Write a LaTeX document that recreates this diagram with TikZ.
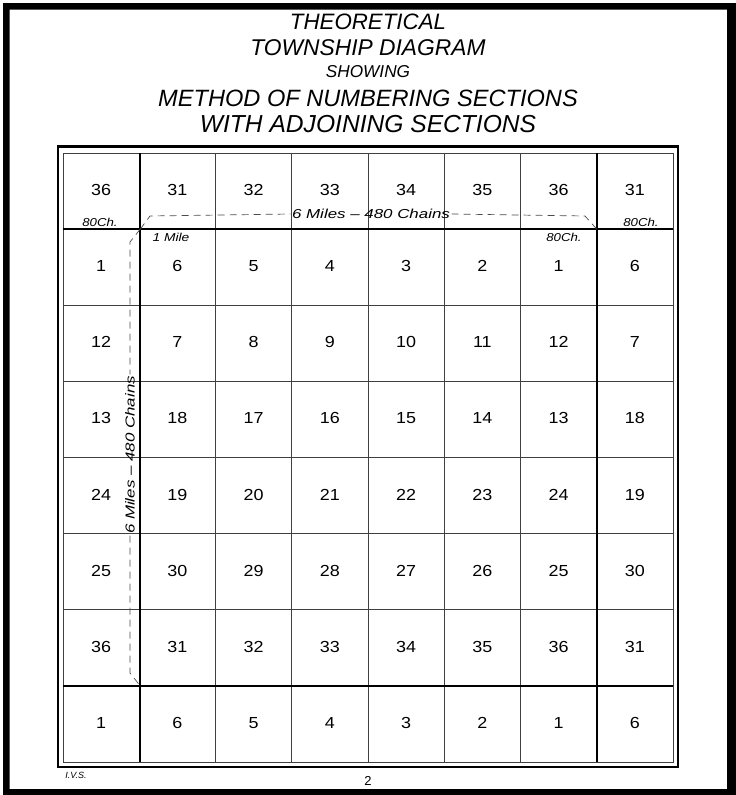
\documentclass[tikz,border=0pt]{standalone}
\usepackage{fontspec}
\usepackage{graphicx}
\setmainfont{Liberation Sans}
\begin{document}
\begin{tikzpicture}[x=1pt,y=-1pt,
  thingrid/.style={line width=0.8pt, black!75},
  thickgrid/.style={line width=2.3pt, black},
  num/.style={font=\fontsize{16}{16}\selectfont, inner sep=0pt},
  dimline/.style={dash pattern=on 7pt off 5pt, line width=0.7pt, black!70},
  smalllabel/.style={font=\fontsize{11.5}{11}\selectfont\itshape, inner sep=1.5pt},
  dimlabel/.style={font=\fontsize{13}{13}\selectfont\itshape, inner sep=1.5pt},
  titletext/.style={inner sep=0pt}]
\useasboundingbox (0,0) rectangle (736,795);
\fill[white] (0,0) rectangle (736,795);
\fill[black, even odd rule] (3,3) rectangle (736,795) (9.5,9.5) rectangle (727,789);

% title
\node[titletext, font=\fontsize{22.3}{22}\selectfont\itshape] (t1) at (368,22) {THEORETICAL};
\node[titletext, font=\fontsize{22.8}{22}\selectfont\itshape] (t2) at (368,48) {TOWNSHIP DIAGRAM};
\node[titletext, font=\fontsize{17.2}{17}\selectfont\itshape] (t3) at (368,72) {SHOWING};
\node[titletext, font=\fontsize{23.6}{23}\selectfont\itshape] (t4) at (368,98) {METHOD OF NUMBERING SECTIONS};
\node[titletext, font=\fontsize{24.6}{24}\selectfont\itshape] (t5) at (368,124) {WITH ADJOINING SECTIONS};

% grid
\foreach \i in {1,...,7} {
  \draw[thingrid] ({63+76.25*\i},153) -- ({63+76.25*\i},762);
  \draw[thingrid] (63,{153+76.125*\i}) -- (673,{153+76.125*\i});
}
\draw[thingrid] (63,153) rectangle (673,762);
\draw[thickgrid] (58,146.5) rectangle (678,767);
\draw[thickgrid] (140.25,153) -- (140.25,762);
\draw[thickgrid] (596.75,153) -- (596.75,762);
\draw[thickgrid] (63,229.1) -- (673,229.1);
\draw[thickgrid] (63,685.9) -- (673,685.9);

% numbers
\foreach \row [count=\r from 0] in {{36,31,32,33,34,35,36,31},{1,6,5,4,3,2,1,6},{12,7,8,9,10,11,12,7},{13,18,17,16,15,14,13,18},{24,19,20,21,22,23,24,19},{25,30,29,28,27,26,25,30},{36,31,32,33,34,35,36,31},{1,6,5,4,3,2,1,6}} {
  \foreach \n [count=\c from 0] in \row {
    \node[num] (n-\r-\c) at ({63+76.25*(\c+0.5)},{153+76.125*(\r+0.5)-1}) {\scalebox{1.12}[1]{\n}};
  }
}

% dimension lines
\coordinate (NW) at (140.25,229.1);
\coordinate (NE) at (596.75,229.1);
\coordinate (SW) at (140.25,685.9);
\coordinate (hb1) at (150,216);
\coordinate (hb2) at (585,216);
\coordinate (vb1) at (130,242);
\coordinate (vb2) at (130,673);
\node[dimlabel] (hlabel) at (371,214) {\scalebox{1.3}[1]{6 Miles -- 480 Chains}};
\node[dimlabel, rotate=90] (vlabel) at (130,455) {\scalebox{1.3}[1]{6 Miles -- 480 Chains}};
\draw[dimline] (NW) -- (hb1) -- (hlabel.west);
\draw[dimline] (hlabel.east) -- (hb2) -- (NE);
\draw[dimline] (NW) -- (vb1) -- (vlabel.east);
\draw[dimline] (vlabel.west) -- (vb2) -- (SW);

% small labels
\node[smalllabel] (ch1) at (100,222) {\scalebox{1.15}[1]{80Ch.}};
\node[smalllabel] (ch2) at (641,222) {\scalebox{1.15}[1]{80Ch.}};
\node[smalllabel] (ch3) at (564,237) {\scalebox{1.15}[1]{80Ch.}};
\node[smalllabel] (mile) at (171,237) {\scalebox{1.2}[1]{1 Mile}};

% footer
\node[font=\fontsize{9}{9}\selectfont\itshape, inner sep=0pt] (ivs) at (76,775) {I.V.S.};
\node[font=\fontsize{13}{13}\selectfont, inner sep=0pt] (pg) at (368,781) {2};
\end{tikzpicture}
\end{document}
